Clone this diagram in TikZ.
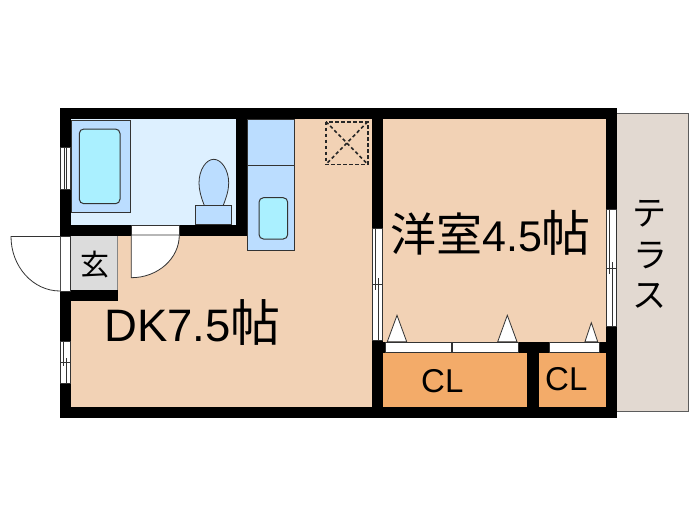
\documentclass[tikz,border=0pt]{standalone}
\usepackage{fontspec}
\setmainfont{Liberation Sans}
\newfontfamily\jpfont{Noto Sans CJK JP}
\definecolor{floorc}{HTML}{F2D2B5}
\definecolor{bathc}{HTML}{DDF0FF}
\definecolor{fixc}{HTML}{BBDDFF}
\definecolor{tubc}{HTML}{AAF0FF}
\definecolor{closetc}{HTML}{F3AB69}
\definecolor{gennc}{HTML}{DCDCDC}
\definecolor{terrc}{HTML}{E2D9D1}
\definecolor{linec}{HTML}{333333}
\tikzset{
  x=1pt,y=-1pt,
  wall/.style={fill=black,draw=none},
  fixture/.style={fill=fixc,draw=linec,line width=0.8pt},
  tub/.style={fill=tubc,draw=linec,line width=1pt,rounded corners=4.5pt},
  opening/.style={fill=white,draw=linec,line width=0.6pt},
  swing/.style={fill=white,draw=linec,line width=0.8pt},
  thin line/.style={draw=linec,line width=0.6pt},
  hatchbox/.style={draw=black!85,line width=1.6pt,dash pattern=on 3.4pt off 2.6pt},
  label/.style={inner sep=0pt,text=black}
}
\begin{document}
\begin{tikzpicture}
\useasboundingbox (0,0) rectangle (700,525);
\fill[white] (0,0) rectangle (700,525);
% terrace
\fill[terrc] (616,113) rectangle (688,411.5);
\draw[draw=linec!80,line width=0.8pt] (616,113) -- (688.5,113) -- (688.5,411.5) -- (616,411.5);
% floors
\fill[floorc] (71,118) rectangle (606,407);
\fill[bathc] (71,118) rectangle (236,225);
\fill[gennc] (71,235) rectangle (117.5,290);
\draw[draw=linec!60,line width=0.4pt] (117.5,235) -- (117.5,290);
% walls
\fill[wall] (60,107.5) rectangle (616.5,118.5);
\fill[wall] (60,407) rectangle (616.5,417.5);
\fill[wall] (60,107.5) rectangle (71,417.5);
\fill[wall] (236,107.5) rectangle (246.5,235);
\fill[wall] (60,224.5) rectangle (246.5,235.5);
\fill[wall] (60,289.5) rectangle (117.5,301);
\fill[wall] (372,107.5) rectangle (382.7,229);
\fill[wall] (372,340) rectangle (382.7,417.5);
\fill[wall] (606,107.5) rectangle (616.5,210);
\fill[wall] (606,326.5) rectangle (616.5,417.5);
\fill[wall] (372,341.5) rectangle (606,352.5);
\fill[wall] (527.3,341.5) rectangle (539,417.5);
% closets
\fill[closetc] (382.7,352.5) rectangle (527.3,406.5);
\fill[closetc] (539,352.5) rectangle (605.5,406.5);
% bath fixtures
\draw[fixture] (71,120) rectangle (130,212.7);
\draw[tub] (79.3,129) rectangle (120,203.7);
\draw[fixture] (204.5,206) .. controls (201,197) and (199,190) .. (199,183)
   .. controls (199,170) and (206,159.3) .. (213.7,159.3)
   .. controls (221.5,159.3) and (228.7,170) .. (228.7,183)
   .. controls (228.7,190) and (226.5,197) .. (223,206) -- cycle;
\draw[fixture] (195.7,205) rectangle (231.3,224);
% kitchen
\draw[fixture] (247.3,119) rectangle (294.3,250);
\draw[fixture] (247.3,165) -- (294.3,165);
\draw[tub] (259,197.7) rectangle (287.7,239);
% hatch
\draw[hatchbox] (326,121.7) rectangle (367.7,164.3);
\draw[hatchbox] (326,121.7) -- (367.7,164.3) (367.7,121.7) -- (326,164.3);
% bath door
\draw[opening] (131.3,225) rectangle (179.3,235);
\draw[swing] (131.3,277.7) -- (131.3,235) -- (179.3,235)
   .. controls (179.3,258.6) and (157.8,277.7) .. (131.3,277.7) -- cycle;
% entry door
\draw[opening] (60.5,236.5) rectangle (70.5,291);
\fill[white] (60,236.5) -- (11,236.5) .. controls (11,266.6) and (33,291) .. (60,291) -- cycle;
\draw[swing,fill=none] (60,236.5) -- (11,236.5) .. controls (11,266.6) and (33,291) .. (60,291);
% windows
\draw[opening] (60.5,147.7) rectangle (70.5,189);
\draw[thin line] (64,147.7) -- (64,189) (66.5,147.7) -- (66.5,189);
\draw[opening] (60.5,341) rectangle (70.5,383);
\draw[thin line] (63.5,341) -- (63.5,366) (66.5,358) -- (66.5,383) (60.5,362) -- (70.5,362);
\draw[opening] (372.3,228.5) rectangle (382.3,340);
\draw[thin line] (375.5,228.5) -- (375.5,290) (378.5,278) -- (378.5,340) (372.3,284) -- (382.3,284);
\draw[opening] (606,209.5) rectangle (616,326.5);
\draw[thin line] (609,209.5) -- (609,274) (612,262) -- (612,326.5) (606,268) -- (616,268);
% closet sliding doors
\draw[opening] (385.7,342) rectangle (451.7,352.3);
\draw[opening] (452.7,342) rectangle (518.7,352.3);
\draw[opening] (549,342) rectangle (599.3,352.3);
% door triangles
\draw[swing] (387.3,341.7) -- (397,315.3) -- (406.7,341.7) -- cycle;
\draw[swing] (497.7,341.7) -- (507.3,315.3) -- (517,341.7) -- cycle;
\draw[swing] (585,341.7) -- (591.3,322.7) -- (597.7,341.7) -- cycle;
% text
\node[label,font=\jpfont\fontsize{29}{29}\selectfont] (gen) at (95,265) {玄};
\node[label,anchor=base west] (dk) at (104,341.7) {\fontsize{45.5}{45.5}\selectfont DK7.5\jpfont\fontsize{50}{50}\selectfont 帖};
\node[label,anchor=base west] (yo) at (390,251) {\jpfont\fontsize{46}{46}\selectfont 洋室\rmfamily\fontsize{43}{43}\selectfont 4.5\jpfont\fontsize{49}{49}\selectfont 帖};
\node[label,font=\fontsize{33}{33}\selectfont,anchor=base west] (cl1) at (421,392.3) {CL};
\node[label,font=\fontsize{33}{33}\selectfont,anchor=base west] (cl2) at (545,390.5) {CL};
\node[label,font=\jpfont\fontsize{34}{34}\selectfont] (t1) at (649,214) {テ};
\node[label,font=\jpfont\fontsize{34}{34}\selectfont] (t2) at (650,256) {ラ};
\node[label,font=\jpfont\fontsize{34}{34}\selectfont] (t3) at (649,296) {ス};
\end{tikzpicture}
\end{document}
